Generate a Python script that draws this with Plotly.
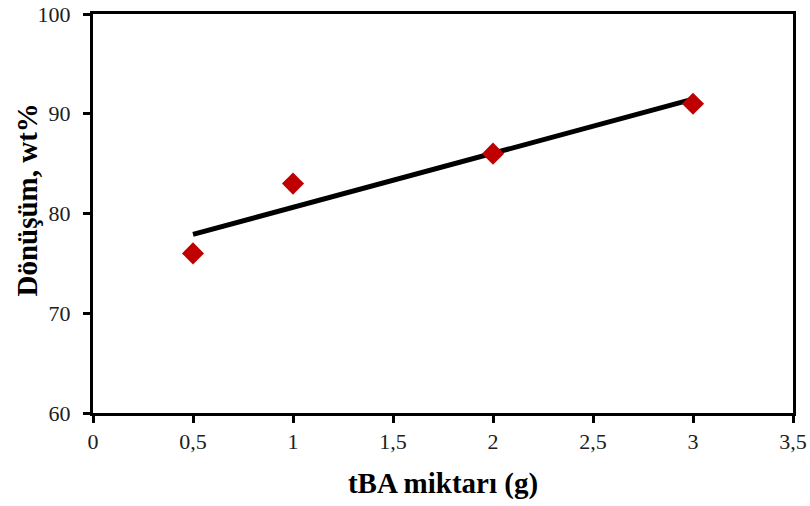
import numpy as np
import plotly.graph_objects as go

tba_g = [0.5, 1.0, 2.0, 3.0]
conversion_wt = [76, 83, 86, 91]
x_ticks = [0, 0.5, 1, 1.5, 2, 2.5, 3, 3.5]
x_tick_labels = ["0", "0,5", "1", "1,5", "2", "2,5", "3", "3,5"]
y_ticks = [60, 70, 80, 90, 100]
x_title = "tBA miktarı (g)"
y_title = "Dönüşüm, wt%"

slope, intercept = np.polyfit(tba_g, conversion_wt, 1)
fit_x = [min(tba_g), max(tba_g)]
fit_y = [slope * v + intercept for v in fit_x]

fig = go.Figure()
fig.add_trace(go.Scatter(
    x=fit_x, y=fit_y, mode="lines",
    line=dict(color="black", width=5), showlegend=False))
fig.add_trace(go.Scatter(
    x=tba_g, y=conversion_wt, mode="markers",
    marker=dict(symbol="diamond", size=17, color="#C00000", line=dict(width=0)),
    showlegend=False, cliponaxis=False))

font_family = "Liberation Serif, Times New Roman, serif"
axis_common = dict(
    ticks="outside", ticklen=7, tickwidth=3, tickcolor="black",
    showline=True, linecolor="black", linewidth=3, mirror=True,
    showgrid=False, zeroline=False, automargin=False,
    tickfont=dict(size=22, family=font_family, color="#202020"),
)
fig.update_layout(
    width=810, height=506,
    margin=dict(l=93, r=17, t=14, b=93),
    paper_bgcolor="white", plot_bgcolor="white",
    font=dict(family=font_family, color="#202020"),
    xaxis=dict(range=[0, 3.5], tickvals=x_ticks, ticktext=x_tick_labels,
               title=dict(text=f"<b>{x_title}</b>",
                          font=dict(size=29, family=font_family, color="black"),
                          standoff=20),
               **axis_common),
    yaxis=dict(range=[60, 100], tickvals=y_ticks, ticklabelstandoff=8,
               **axis_common),
    annotations=[dict(
        text=f"<b>{y_title}</b>", textangle=-90, showarrow=False,
        xref="paper", yref="paper", x=0, y=0.5,
        xanchor="center", yanchor="middle", xshift=-67, yshift=13,
        font=dict(size=29, family=font_family, color="black"))],
)
fig.write_html("out.html", config={"displayModeBar": False},
               post_script="document.body.style.margin='0';")
